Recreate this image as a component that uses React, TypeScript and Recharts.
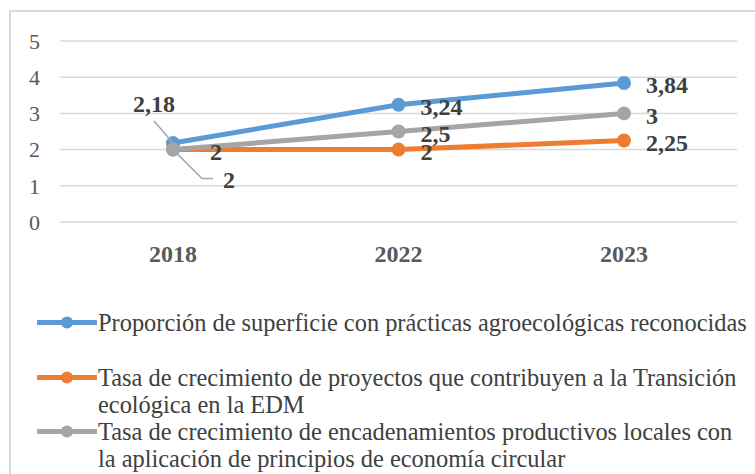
import { LineChart, Line, XAxis, YAxis, CartesianGrid } from 'recharts'

// values
const years = ['2018', '2022', '2023']
const superficie = [2.18, 3.24, 3.84]
const proyectos = [2, 2, 2.25]
const encadenamientos = [2, 2.5, 3]
const yTicks = [0, 1, 2, 3, 4, 5]

const seriesKeys = ['superficie', 'proyectos', 'encadenamientos']
const seriesNames = [
  'Proporción de superficie con prácticas agroecológicas reconocidas',
  'Tasa de crecimiento de proyectos que contribuyen a la Transición\necológica en la EDM',
  'Tasa de crecimiento de encadenamientos productivos locales con\nla aplicación de principios de economía circular',
]
const seriesColors = ['#5B9BD5', '#ED7D31', '#A5A5A5']

const data = years.map((year, i) => ({
  year,
  superficie: superficie[i],
  proyectos: proyectos[i],
  encadenamientos: encadenamientos[i],
}))

const FONT = "'Times New Roman', 'Liberation Serif', Tinos, 'DejaVu Serif', serif"
const TEXT = '#404040'

const fmt = (v: number) => String(v).replace('.', ',')

const makeLabel = (key: string) => (props: any) => {
  const { x, y, index, value } = props
  const common = { fontFamily: FONT, fontSize: 24, fontWeight: 700, fill: TEXT }
  const text = fmt(value)

  // first point labels sit away from the cluster at 2018
  if (index === 0 && key === 'superficie') {
    return (
      <g>
        <line x1={x - 19} y1={y - 22} x2={x} y2={y} stroke="#a6a6a6" strokeWidth={1.5} />
        <text x={x - 19} y={y - 39} dy="0.35em" textAnchor="middle" {...common}>{text}</text>
      </g>
    )
  }
  if (index === 0 && key === 'encadenamientos') {
    return (
      <g>
        <polyline points={`${x},${y} ${x + 29},${y + 29} ${x + 40},${y + 29}`} fill="none" stroke="#a6a6a6" strokeWidth={1.5} />
        <text x={x + 50} y={y + 30} dy="0.35em" {...common}>{text}</text>
      </g>
    )
  }
  const dx = index === 0 && key === 'proyectos' ? 37 : 22
  return (
    <text x={x + dx} y={y + 2} dy="0.35em" {...common}>{text}</text>
  )
}

const LegendIcon = ({ color }: { color: string }) => (
  <svg width={60} height={27} style={{ flex: 'none' }}>
    <line x1={1} y1={13.5} x2={59} y2={13.5} stroke={color} strokeWidth={5} strokeLinecap="round" />
    <circle cx={30} cy={13.5} r={6} fill={color} />
  </svg>
)

export default function App() {
  return (
    <div style={{ position: 'absolute', left: 0, top: 0, width: 755, height: 474, overflow: 'hidden', background: '#fff' }}>
      <div style={{ position: 'absolute', left: 9, top: 10, width: 800, height: 500, border: '2px solid #d9d9d9' }} />
      <LineChart
        width={755}
        height={300}
        data={data}
        margin={{ top: 41, right: 18, left: 0, bottom: 48 }}
        style={{ position: 'absolute', left: 0, top: 0 }}
      >
        <CartesianGrid vertical={false} stroke="#d9d9d9" strokeWidth={1.5} />
        <XAxis
          dataKey="year"
          axisLine={false}
          tickLine={false}
          tickSize={0}
          tickMargin={23}
          height={30}
          padding={{ left: 113, right: 113 }}
          tick={{ fontFamily: FONT, fontSize: 24, fontWeight: 700, fill: '#595959' }}
        />
        <YAxis
          domain={[0, 5]}
          ticks={yTicks}
          axisLine={false}
          tickLine={false}
          tickSize={0}
          tickMargin={20}
          width={60}
          tick={{ fontFamily: FONT, fontSize: 22, fill: '#595959' }}
        />
        {seriesKeys.map((key, i) => (
          <Line
            key={key}
            dataKey={key}
            name={seriesNames[i]}
            stroke={seriesColors[i]}
            strokeWidth={5}
            dot={{ r: 7, fill: seriesColors[i], stroke: seriesColors[i], strokeWidth: 0 }}
            activeDot={false}
            label={makeLabel(key)}
            isAnimationActive={false}
          />
        ))}
      </LineChart>
      <div style={{ position: 'absolute', left: 37, top: 309, fontFamily: FONT, fontSize: 24.4, lineHeight: '27px', color: TEXT }}>
        {seriesNames.map((name, i) => (
          <div key={name} style={{ display: 'flex', alignItems: 'flex-start', minHeight: 54.5 }}>
            <LegendIcon color={seriesColors[i]} />
            <div style={{ whiteSpace: 'pre', marginLeft: 1 }}>{name}</div>
          </div>
        ))}
      </div>
    </div>
  )
}
